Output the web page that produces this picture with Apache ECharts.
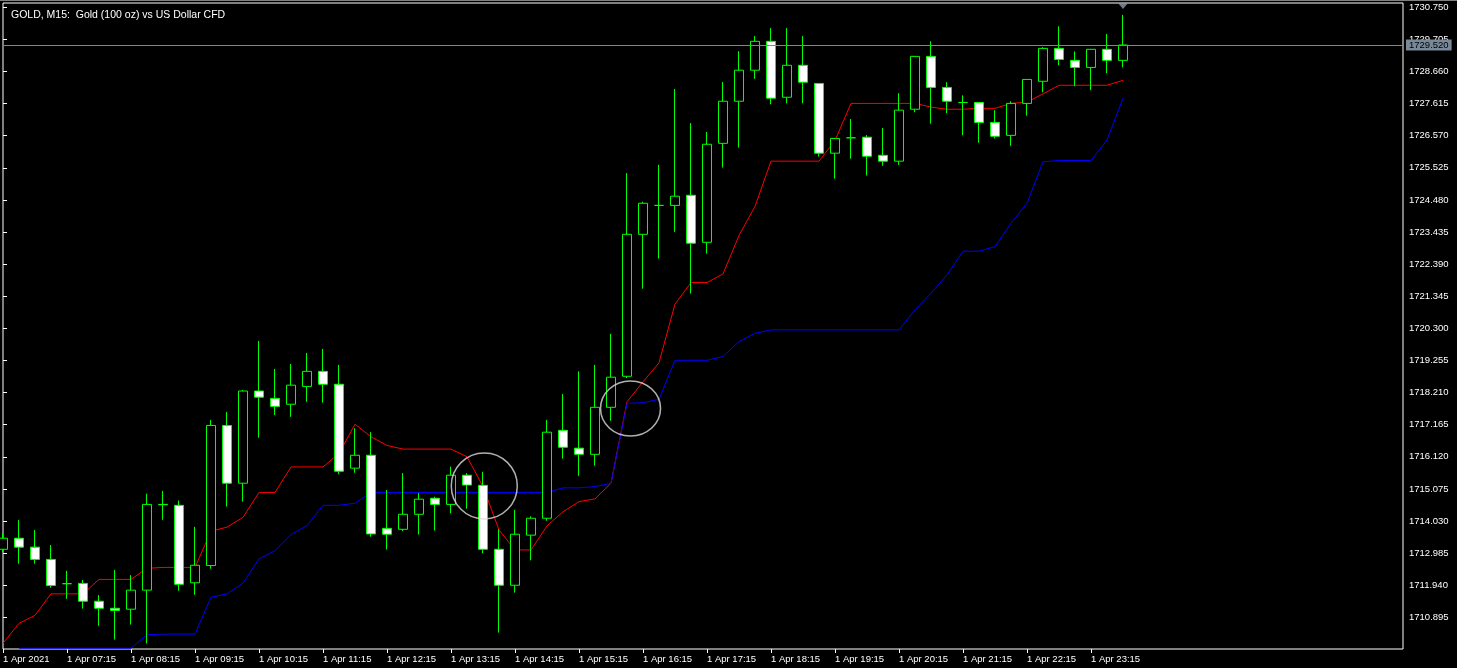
<!DOCTYPE html>
<html>
<head>
<meta charset="utf-8">
<script src="https://cdn.jsdelivr.net/npm/echarts@6/dist/echarts.min.js"></script>
<style>
html,body{margin:0;padding:0;background:#000;}
#c{width:1457px;height:668px;box-sizing:border-box;border-top:1px solid #7f7f7f;}
</style>
</head>
<body>
<div id="c"></div>
<script>
const chartTitle = 'GOLD, M15:  Gold (100 oz) vs US Dollar CFD';
const timeLabels = ['1 Apr 2021','1 Apr 07:15','1 Apr 08:15','1 Apr 09:15','1 Apr 10:15','1 Apr 11:15','1 Apr 12:15','1 Apr 13:15','1 Apr 14:15','1 Apr 15:15','1 Apr 16:15','1 Apr 17:15','1 Apr 18:15','1 Apr 19:15','1 Apr 20:15','1 Apr 21:15','1 Apr 22:15','1 Apr 23:15'];
const priceTicks = [1710.895,1711.940,1712.985,1714.030,1715.075,1716.120,1717.165,1718.210,1719.255,1720.300,1721.345,1722.390,1723.435,1724.480,1725.525,1726.570,1727.615,1728.660,1729.705,1730.750];

const opens = [1713.11,1713.47,1713.18,1712.78,1711.99,1712.00,1711.42,1711.19,1711.16,1711.78,
  1714.57,1714.54,1712.02,1712.58,1717.14,1715.26,1718.26,1718.02,1717.83,1718.41,
  1718.90,1718.48,1715.75,1716.17,1713.79,1713.76,1714.25,1714.77,1714.57,1715.52,
  1715.19,1713.11,1711.94,1713.57,1714.12,1716.98,1716.40,1716.20,1717.73,1718.74,
  1723.36,1724.30,1724.30,1724.63,1723.10,1726.32,1727.69,1728.70,1729.64,1727.82,
  1728.86,1728.27,1726.00,1726.50,1726.52,1725.93,1725.74,1727.43,1729.15,1728.14,
  1727.65,1727.65,1727.00,1726.58,1727.62,1728.34,1729.41,1729.02,1728.79,1729.38,
  1729.02];
const closes = [1713.47,1713.18,1712.78,1711.93,1711.99,1711.42,1711.19,1711.12,1711.78,1714.57,
  1714.56,1711.97,1712.59,1717.14,1715.26,1718.26,1718.06,1717.76,1718.45,1718.90,
  1718.48,1715.65,1716.17,1713.61,1713.60,1714.25,1714.74,1714.57,1715.52,1715.20,
  1713.11,1711.94,1713.60,1714.12,1716.92,1716.43,1716.20,1717.73,1718.71,1723.36,
  1724.37,1724.30,1724.60,1723.07,1726.29,1727.69,1728.70,1729.64,1727.79,1728.86,
  1728.31,1726.00,1726.48,1726.50,1725.90,1725.74,1727.40,1729.15,1728.14,1727.69,
  1727.65,1727.00,1726.55,1727.62,1728.40,1729.41,1729.05,1728.79,1729.38,1729.02,
  1729.52];
const lows = [1713.02,1712.64,1712.64,1711.86,1711.50,1711.18,1710.62,1710.17,1710.66,1710.04,
  1714.07,1711.76,1711.63,1712.48,1714.50,1714.66,1716.74,1717.48,1717.42,1717.91,
  1717.88,1715.55,1715.60,1713.52,1713.10,1713.70,1713.59,1713.72,1714.28,1714.43,
  1712.98,1710.40,1711.70,1712.75,1714.04,1716.06,1715.50,1715.83,1717.29,1718.68,
  1721.59,1722.57,1723.44,1721.43,1722.73,1725.53,1726.18,1728.42,1727.59,1727.62,
  1727.62,1725.89,1725.17,1725.82,1725.27,1725.59,1725.62,1727.33,1726.96,1727.30,
  1726.58,1726.34,1726.48,1726.24,1727.22,1727.98,1728.86,1728.18,1728.05,1728.60,
  1728.79];
const highs = [1713.64,1714.06,1713.74,1713.25,1712.41,1712.11,1711.62,1712.44,1712.27,1714.92,
  1715.01,1714.70,1713.84,1717.32,1717.58,1718.29,1719.89,1718.98,1719.14,1719.50,
  1719.63,1719.11,1717.05,1716.92,1715.04,1715.59,1714.94,1714.82,1715.80,1715.59,
  1715.63,1713.76,1714.39,1714.18,1717.32,1718.16,1718.90,1719.11,1720.12,1725.35,
  1724.42,1725.62,1728.09,1726.98,1726.69,1728.32,1729.32,1729.81,1730.07,1730.07,
  1729.81,1728.27,1726.48,1727.11,1726.59,1726.82,1727.95,1729.15,1729.64,1728.31,
  1727.88,1727.65,1727.40,1727.69,1728.40,1729.45,1730.13,1729.31,1729.38,1729.88,
  1730.50];
const redLine = [1710.05,1710.70,1710.96,1711.66,1711.66,1711.66,1712.13,1712.13,1712.13,1712.49,
  1712.52,1712.52,1712.52,1713.70,1713.83,1714.15,1714.96,1714.96,1715.79,1715.79,
  1715.79,1716.23,1717.18,1716.77,1716.49,1716.37,1716.37,1716.37,1716.37,1716.12,
  1715.15,1713.74,1713.09,1713.09,1713.87,1714.33,1714.66,1714.75,1715.26,1717.91,
  1718.56,1719.18,1721.09,1721.79,1721.79,1722.07,1723.32,1724.27,1725.74,1725.74,
  1725.74,1725.74,1726.41,1727.62,1727.62,1727.62,1727.62,1727.62,1727.50,1727.43,
  1727.43,1727.46,1727.46,1727.62,1727.66,1727.93,1728.21,1728.21,1728.21,1728.21,
  1728.37];
const blueLine = [null,1709.89,1709.89,1709.89,1709.89,1709.89,1709.89,1709.89,1709.89,1710.33,
  1710.35,1710.35,1710.35,1711.55,1711.66,1712.01,1712.80,1713.06,1713.59,1713.88,
  1714.54,1714.54,1714.61,1714.96,1714.96,1714.96,1714.96,1714.96,1714.96,1714.96,
  1714.96,1714.96,1714.96,1714.96,1714.96,1715.11,1715.11,1715.15,1715.26,1717.86,
  1717.88,1717.99,1719.26,1719.26,1719.26,1719.38,1719.87,1720.14,1720.25,1720.25,
  1720.25,1720.25,1720.25,1720.25,1720.25,1720.25,1720.25,1720.90,1721.44,1722.04,
  1722.81,1722.81,1722.96,1723.72,1724.37,1725.72,1725.76,1725.76,1725.76,1726.43,
  1727.79];
const bidPrice = 1729.52;
const circleMarks = [[30.08, 1715.17], [39.22, 1717.69]];
const highMarker = [[70, 1730.79]];

const candleData = opens.map((o, i) => [i, o, closes[i], lows[i], highs[i]]);
const tickIdx = timeLabels.map((_, k) => k * 4);
const FONT = 'Liberation Sans, Arial, sans-serif';

const chart = echarts.init(document.getElementById('c'), null, {renderer: 'canvas'});
chart.setOption({
  backgroundColor: '#000000',
  animation: false,
  title: {
    text: chartTitle, left: 6, top: 4,
    textStyle: {color: '#ffffff', fontSize: 10.5, fontWeight: 'normal', fontFamily: FONT}
  },
  grid: {left: 3, right: 54, top: 2, bottom: 19, show: true, borderColor: '#ffffff', borderWidth: 1, backgroundColor: '#000000'},
  xAxis: {
    type: 'value', min: 0, max: 87.5,
    splitLine: {show: false},
    axisLine: {show: false},
    axisTick: {show: true, length: 4, lineStyle: {color: '#ffffff'}, customValues: tickIdx},
    axisLabel: {
      customValues: tickIdx, color: '#ffffff', fontSize: 9.5, fontFamily: FONT,
      align: 'left', margin: 5,
      formatter: v => timeLabels[Math.round(v / 4)] || ''
    }
  },
  yAxis: {
    type: 'value', position: 'right', min: 1709.865, max: 1730.887, scale: true,
    splitLine: {show: false},
    axisLine: {show: false},
    axisTick: {show: true, length: 4, lineStyle: {color: '#ffffff'}, customValues: priceTicks},
    axisLabel: {
      customValues: priceTicks, color: '#ffffff', fontSize: 9.5, fontFamily: FONT,
      margin: 6, formatter: v => v.toFixed(3)
    }
  },
  series: [
    {
      type: 'line', data: redLine.map((v, i) => [i, v]), showSymbol: false, symbol: 'none',
      lineStyle: {color: '#ff0000', width: 1}, z: 3, silent: true
    },
    {
      type: 'line', data: blueLine.map((v, i) => [i, v]), showSymbol: false, symbol: 'none',
      lineStyle: {color: '#0000ff', width: 1}, z: 3, silent: true
    },
    {
      type: 'candlestick', data: candleData, encode: {x: 0, y: [1, 2, 3, 4]},
      barWidth: 10, z: 4,
      itemStyle: {color: '#000000', color0: '#ffffff', borderColor: '#00ff00', borderColor0: '#00ff00', borderColorDoji: '#00ff00', borderWidth: 1},
      markLine: {
        silent: true, symbol: ['none', 'none'], animation: false,
        lineStyle: {color: '#778899', width: 1, type: 'solid'},
        label: {
          position: 'end', distance: 3, formatter: v => v.value.toFixed(3),
          color: '#000000', backgroundColor: '#778899', padding: [1, 3, 0, 3],
          fontSize: 9.5, fontFamily: FONT
        },
        data: [{yAxis: bidPrice}]
      }
    },
    {
      type: 'scatter', data: circleMarks.slice(0, 1), symbol: 'circle', symbolSize: 66, z: 6, silent: true,
      itemStyle: {color: 'rgba(0,0,0,0)', borderColor: '#dcdcdc', borderWidth: 1.5}
    },
    {
      type: 'scatter', data: circleMarks.slice(1), symbol: 'circle', symbolSize: [60, 55], z: 6, silent: true,
      itemStyle: {color: 'rgba(0,0,0,0)', borderColor: '#dcdcdc', borderWidth: 1.5}
    },
    {
      type: 'scatter', data: highMarker, symbol: 'triangle', symbolRotate: 180, symbolSize: [10, 6], z: 6, silent: true,
      itemStyle: {color: '#8a98a6'}
    }
  ]
});
</script>
</body>
</html>
